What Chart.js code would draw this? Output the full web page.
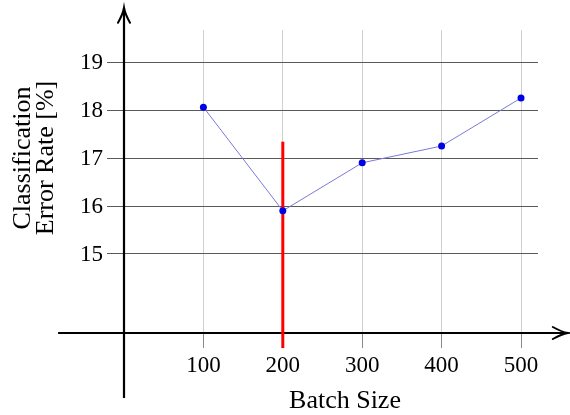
<!DOCTYPE html>
<html>
<head>
<meta charset="utf-8">
<script src="https://cdn.jsdelivr.net/npm/chart.js@4/dist/chart.umd.min.js"></script>
<style>
  html, body { margin: 0; padding: 0; background: #ffffff; }
  #wrap { width: 570px; height: 415px; }
</style>
</head>
<body>
<div id="wrap"><canvas id="c" width="570" height="415"></canvas></div>
<script>
// ---- data ----
const batchSizes = [100, 200, 300, 400, 500];
const errorRates = [18.06, 15.90, 16.90, 17.25, 18.25];
const xTickValues = [100, 200, 300, 400, 500];
const yTickValues = [15, 16, 17, 18, 19];
const bestBatch = 200;
const markerFrom = 13.04;
const markerTo = 17.34;
const xTitle = 'Batch Size';
const yTitle = ['Classification', 'Error Rate [%]'];

const SERIF = '"Liberation Serif", "DejaVu Serif", serif';

const axesPlugin = {
  id: 'arrowAxes',
  beforeDatasetsDraw(chart) {
    const ctx = chart.ctx;
    const xs = chart.scales.x, ys = chart.scales.y;
    const x0 = xs.getPixelForValue(0);
    const yb = chart.chartArea.bottom;
    ctx.save();
    ctx.strokeStyle = '#000';
    ctx.lineWidth = 2.2;
    ctx.lineCap = 'butt';
    const yTop = ys.getPixelForValue(20.13);
    const yBot = ys.getPixelForValue(12.0);
    ctx.beginPath();
    ctx.moveTo(x0, yBot);
    ctx.lineTo(x0, yTop);
    ctx.stroke();
    const xL = xs.getPixelForValue(-83);
    const xR = xs.getPixelForValue(559);
    ctx.beginPath();
    ctx.moveTo(xL, yb);
    ctx.lineTo(xR, yb);
    ctx.stroke();
    ctx.lineWidth = 2;
    ctx.lineCap = 'round';
    ctx.beginPath();
    ctx.moveTo(x0 - 6, yTop + 15);
    ctx.quadraticCurveTo(x0 - 1, yTop + 6, x0, yTop);
    ctx.quadraticCurveTo(x0 + 1, yTop + 6, x0 + 6, yTop + 15);
    ctx.stroke();
    ctx.beginPath();
    ctx.moveTo(xR - 15, yb - 6);
    ctx.quadraticCurveTo(xR - 6, yb - 1, xR, yb);
    ctx.quadraticCurveTo(xR - 6, yb + 1, xR - 15, yb + 6);
    ctx.stroke();
    ctx.restore();
  },
  afterDraw(chart) {
    const ctx = chart.ctx;
    const xs = chart.scales.x, ys = chart.scales.y;
    ctx.save();
    ctx.fillStyle = '#000';
    ctx.font = '23px ' + SERIF;
    ctx.textBaseline = 'middle';
    ctx.textAlign = 'right';
    yTickValues.forEach(v => ctx.fillText(String(v), 103, ys.getPixelForValue(v) + 1));
    ctx.textAlign = 'center';
    xTickValues.forEach(v => ctx.fillText(String(v), xs.getPixelForValue(v), 366));
    ctx.font = '26px ' + SERIF;
    ctx.textBaseline = 'alphabetic';
    ctx.fillText(xTitle, 345, 408);
    const lines = [[yTitle[0], 30, 158], [yTitle[1], 53, 158]];
    lines.forEach(([t, bx, cy]) => {
      ctx.save();
      ctx.translate(bx, cy);
      ctx.rotate(-Math.PI / 2);
      ctx.textAlign = 'center';
      ctx.textBaseline = 'alphabetic';
      ctx.fillText(t, 0, 0);
      ctx.restore();
    });
    ctx.restore();
  }
};

new Chart(document.getElementById('c'), {
  type: 'scatter',
  data: {
    datasets: [
      {
        label: 'error',
        data: batchSizes.map((b, i) => ({ x: b, y: errorRates[i] })),
        showLine: true,
        borderColor: '#7a7ad6',
        borderWidth: 1,
        pointRadius: 3.5,
        pointBackgroundColor: '#0000e6',
        pointBorderColor: '#0000e6',
        pointBorderWidth: 0,
        order: 0
      },
      {
        label: 'best',
        data: [{ x: bestBatch, y: markerFrom }, { x: bestBatch, y: markerTo }],
        showLine: true,
        borderColor: '#ff0000',
        borderWidth: 3,
        pointRadius: 0,
        clip: false,
        order: 1
      }
    ]
  },
  options: {
    responsive: false,
    animation: false,
    devicePixelRatio: 1,
    layout: { padding: { top: 30, right: 32, left: 0, bottom: 0 } },
    plugins: { legend: { display: false }, tooltip: { enabled: false }, title: { display: false } },
    scales: {
      x: {
        type: 'linear',
        min: 0,
        max: 521.4,
        afterBuildTicks(scale) { scale.ticks = xTickValues.map(v => ({ value: v })); },
        afterFit(scale) { scale.height = 82; },
        grid: { color: '#d0d0d0', lineWidth: 1, drawTicks: true, tickLength: 15, tickColor: '#8a8a8a' },
        border: { display: false },
        ticks: { display: false }
      },
      y: {
        type: 'linear',
        min: 13.354,
        max: 19.667,
        afterBuildTicks(scale) { scale.ticks = yTickValues.map(v => ({ value: v })); },
        afterFit(scale) { scale.width = 124; },
        grid: { color: '#5a5a5a', lineWidth: 1, drawTicks: true, tickLength: 17, tickColor: '#5a5a5a' },
        border: { display: false },
        ticks: { display: false }
      }
    }
  },
  plugins: [axesPlugin]
});
</script>
</body>
</html>
